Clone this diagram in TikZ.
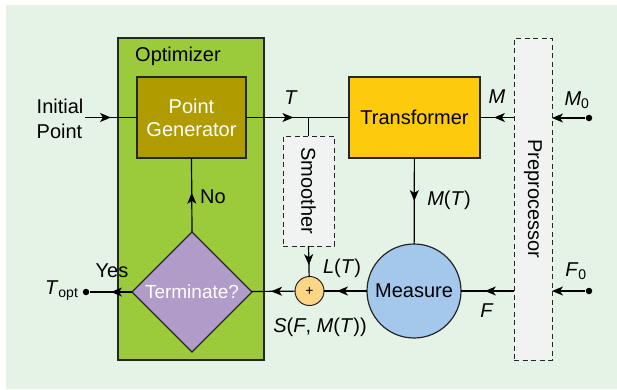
\documentclass[tikz,border=0pt]{standalone}
\usepackage{fontspec}
\setmainfont{Liberation Sans}
\usetikzlibrary{arrows.meta,positioning,shapes.geometric,decorations.markings}
\definecolor{bgcol}{HTML}{E5F3E7}
\definecolor{optcol}{HTML}{9BCB3B}
\definecolor{gencol}{HTML}{B09C00}
\definecolor{transcol}{HTML}{FDCB0B}
\definecolor{meascol}{HTML}{A3C8EC}
\definecolor{sumcol}{HTML}{FDD584}
\definecolor{prepcol}{HTML}{F1F3F2}
\definecolor{termcol}{HTML}{B09BC9}
\newcommand{\bigfont}{\fontsize{20}{25}\selectfont}
\newcommand{\vi}[1]{\textit{#1}}
\tikzset{
  blk/.style={draw=black!85,line width=1.2pt,inner sep=0pt,outer sep=0pt},
  dashbox/.style={blk,fill=prepcol,dash pattern=on 5pt off 3.5pt,line width=1pt},
  lbl/.style={inner sep=1pt},
  arrowat/.style={postaction={decorate},decoration={markings,
    mark=at position #1 with {\arrow{Stealth[length=11pt,width=9pt,inset=3pt]}}}},
  dot/.style={circle,fill=black,inner sep=0pt,minimum size=6.5pt}
}
\begin{document}
\begin{tikzpicture}[x=1pt,y=-1pt,line width=1.2pt,
  every node/.style={font=\bigfont}]
\useasboundingbox (0,0) rectangle (617,389);
\fill[bgcol] (6,5) rectangle (617,389);
% optimizer and its blocks
\node[blk,fill=optcol,minimum width=146pt,minimum height=322pt] (opt) at (191,199) {};
\node[anchor=north] (opttxt) at (178,43) {Optimizer};
\node[blk,fill=gencol,text=white,align=center,minimum width=109pt,minimum height=81pt] (gen) at (191.5,117.5) {Point\\[-2pt]Generator};
\node[blk,fill=termcol,diamond,minimum width=120pt,minimum height=120pt,shape aspect=1] (term) at (192,292) {};
\node[text=white] (termtxt) at (192,292) {\fontsize{19}{22}\selectfont Terminate?};
% transformer, measure, sum
\node[blk,fill=transcol,minimum width=131pt,minimum height=81pt] (trans) at (414.5,117.5) {Transformer};
\node[blk,fill=meascol,circle,minimum size=94pt] (meas) at (414,291) {Measure};
\node[blk,fill=sumcol,circle,minimum size=29pt,line width=1pt] (sum) at (309.5,291) {\fontsize{14}{14}\selectfont +};
% dashed boxes
\node[dashbox,minimum width=51pt,minimum height=110pt] (smooth) at (308.5,191) {};
\node[rotate=-90] (smoothtxt) at (smooth) {Smoother};
\node[dashbox,minimum width=38pt,minimum height=322pt] (prep) at (533,199) {};
\node[rotate=-90] (preptxt) at (prep) {Preprocessor};
% inputs and outputs
\node[align=left,anchor=east,inner sep=1pt] (init) at (85,119) {Initial\\Point};
\node[dot] (m0dot) at (589,118) {};
\node[dot] (f0dot) at (589,291) {};
\node[dot] (optdot) at (86,292) {};
\coordinate (tap) at (308.5,117.5);
% connectors
\draw[arrowat=0.5] (init.east |- gen) -- (gen);
\draw[arrowat=0.46] (gen) -- (trans);
\draw (tap) -- (smooth.north);
\draw[arrowat=0.59] (prep.west |- trans) -- (trans);
\draw[-{Stealth[length=11pt,width=9pt,inset=3pt]}] (m0dot) -- (prep.east |- m0dot);
\draw[arrowat=0.5] (trans) -- (meas);
\draw[arrowat=0.55] (prep.west |- meas) -- (meas);
\draw[-{Stealth[length=11pt,width=9pt,inset=3pt]}] (f0dot) -- (prep.east |- f0dot);
\draw[arrowat=0.7] (meas) -- (sum);
\draw[arrowat=0.63] (smooth.south) -- (sum);
\draw[arrowat=0.55] (sum) -- (term);
\draw[arrowat=0.53] (term.north) -- (gen.south);
\draw[arrowat=0.5] (term.west) -- (optdot);
% labels
\node[lbl] (tlbl) at (291,98) {\vi{T}};
\node[lbl] (mlbl) at (497,97) {\vi{M}};
\node[lbl] (m0lbl) at (577,100) {\vi{M}\textsubscript{0}};
\node[lbl] (mtlbl) at (449,200) {\vi{M}(\vi{T})};
\node[lbl] (ltlbl) at (342,268) {\vi{L}(\vi{T})};
\node[lbl] (slbl) at (320,327) {\vi{S}(\vi{F}, \vi{M}(\vi{T}))};
\node[lbl] (flbl) at (487,311) {\vi{F}};
\node[lbl] (f0lbl) at (576,271) {\vi{F}\textsubscript{0}};
\node (yeslbl) at (112,271) {Yes};
\node (nolbl) at (213,197) {No};
\node[lbl,anchor=east] (toptlbl) at (80,291) {\vi{T}\textsubscript{opt}};
\end{tikzpicture}
\end{document}
